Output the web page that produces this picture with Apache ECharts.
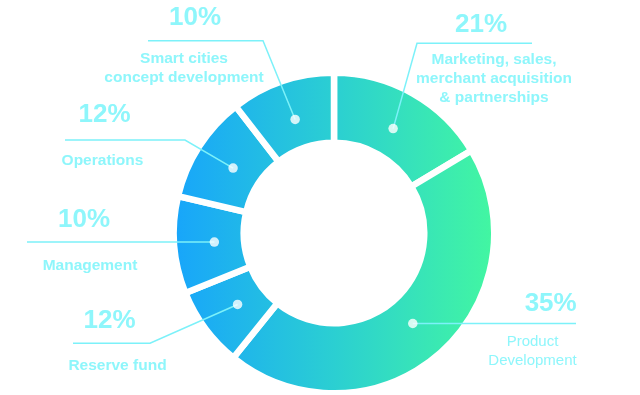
<!DOCTYPE html>
<html>
<head>
<meta charset="utf-8">
<script src="https://cdn.jsdelivr.net/npm/echarts@6/dist/echarts.min.js"></script>
<style>
  html, body { margin: 0; padding: 0; background: #ffffff; }
  #chart { width: 640px; height: 395px; }
</style>
</head>
<body>
<div id="chart"></div>
<script>
// ---- data ----
const categories = [
  'Marketing, sales,\nmerchant acquisition\n& partnerships',
  'Product\nDevelopment',
  'Reserve fund',
  'Management',
  'Operations',
  'Smart cities\nconcept development'
];
const percentLabels = ['21%', '35%', '12%', '10%', '12%', '10%'];
// arc shares as drawn in the picture (measured from slice boundaries)
const sliceShares = [16.4, 44.4, 8.1, 9.8, 10.8, 10.5];

// ---- layout / style ----
const CX = 334, CY = 233, R_OUT = 157, R_IN = 93.5, R_DOT = 120, GAP = 6.5;
const TEXT_COLOR = '#8ef6fb';
const LINE_COLOR = '#7cf1f9';
const NAME_LH = 19;
const labelPlaces = [
  { x: 494,   pY: 25,  nY: 60,    lineY: 43.3,  elbowX: 417, endX: 532, shift: -13 },
  { x: 532.5, pY: 304, nY: 342.3, lineY: null,  elbowX: null, endX: 576, shift: 0, right: true, normal: true },
  { x: 117.5, pY: 321, nY: 365.7, lineY: 343.3, elbowX: 150, endX: 73,  shift: -8 },
  { x: 90,    pY: 220, nY: 265.7, lineY: null,  elbowX: null, endX: 27,  shift: -6 },
  { x: 102.5, pY: 115, nY: 161,   lineY: 140,   elbowX: 185, endX: 65,  shift: 2 },
  { x: 184,   pY: 18,  nY: 58.3,  lineY: 40.7,  elbowX: 263, endX: 148, shift: 11 }
];

const total = sliceShares.reduce((a, b) => a + b, 0);
const midShares = [];
let acc = 0;
sliceShares.forEach(v => { midShares.push(acc + v / 2); acc += v; });

function dotPoint(i) {
  const th = midShares[i] / total * Math.PI * 2;
  return [CX + R_DOT * Math.sin(th), CY - R_DOT * Math.cos(th)];
}

const rich = {
  n: { fontFamily: 'Liberation Sans, Arial', fontSize: 15.5, fontWeight: 'bold', color: TEXT_COLOR, lineHeight: NAME_LH },
  m: { fontFamily: 'Liberation Sans, Arial', fontSize: 15, fontWeight: 'normal', color: TEXT_COLOR, lineHeight: NAME_LH }
};
labelPlaces.forEach((L, i) => {
  const lh = 2 * (L.nY - L.pY) - NAME_LH;
  rich['p' + i] = {
    fontFamily: 'Liberation Sans, Arial', fontSize: 26, fontWeight: 'bold', color: TEXT_COLOR,
    lineHeight: lh,
    align: L.right ? 'right' : 'center',
    padding: L.shift < 0 ? [0, -2 * L.shift, 0, 0] : [0, 0, 0, 2 * L.shift]
  };
});

const gradient = new echarts.graphic.LinearGradient(CX - R_OUT, 0, CX + R_OUT, 0, [
  { offset: 0, color: '#18a6fa' },
  { offset: 0.5, color: '#2bcfd2' },
  { offset: 1, color: '#42f6a2' }
], true);

const pieData = categories.map((c, i) => ({ name: c, value: sliceShares[i] }));

const chart = echarts.init(document.getElementById('chart'), null, { renderer: 'canvas' });
chart.setOption({
  animation: false,
  backgroundColor: '#ffffff',
  polar: { center: [CX, CY], radius: R_OUT },
  radiusAxis: { type: 'value', min: 0, max: R_OUT, show: false },
  angleAxis: { type: 'value', min: 0, max: total, startAngle: 90, clockwise: true, show: false },
  series: [
    {
      // coloured ring
      type: 'pie',
      center: [CX, CY],
      radius: [R_IN - GAP / 2, R_OUT + GAP / 2],
      startAngle: 90,
      clockwise: true,
      silent: true,
      itemStyle: { color: gradient, borderColor: '#ffffff', borderWidth: GAP },
      label: { show: false },
      labelLine: { show: false },
      data: pieData,
      z: 2
    },
    {
      // labels and leader lines, drawn on top of the ring
      type: 'pie',
      center: [CX, CY],
      radius: [R_IN, R_OUT],
      startAngle: 90,
      clockwise: true,
      avoidLabelOverlap: false,
      silent: true,
      itemStyle: { color: 'rgba(0,0,0,0)', borderWidth: 0 },
      label: {
        show: true,
        position: 'outside',
        formatter: p => {
          const i = p.dataIndex;
          const style = labelPlaces[i].normal ? 'm' : 'n';
          return '{p' + i + '|' + percentLabels[i] + '}\n' +
            categories[i].split('\n').map(s => '{' + style + '|' + s + '}').join('\n');
        },
        rich: rich
      },
      labelLine: { show: true, smooth: false, lineStyle: { color: LINE_COLOR, width: 1.5 } },
      labelLayout: params => {
        const i = params.dataIndex;
        const L = labelPlaces[i];
        const lh = 2 * (L.nY - L.pY) - NAME_LH;
        const d = dotPoint(i);
        const ly = L.lineY == null ? d[1] : L.lineY;
        const elbow = L.elbowX == null ? d : [L.elbowX, ly];
        return {
          x: L.x,
          y: L.pY - lh / 2,
          align: 'center',
          verticalAlign: 'top',
          labelLinePoints: [d, elbow, [L.endX, ly]]
        };
      },
      data: pieData,
      z: 3
    },
    {
      type: 'scatter',
      coordinateSystem: 'polar',
      symbol: 'circle',
      symbolSize: 9.5,
      silent: true,
      itemStyle: { color: '#ffffff' },
      data: midShares.map(m => [R_DOT, m]),
      z: 5
    }
  ]
});
</script>
</body>
</html>
